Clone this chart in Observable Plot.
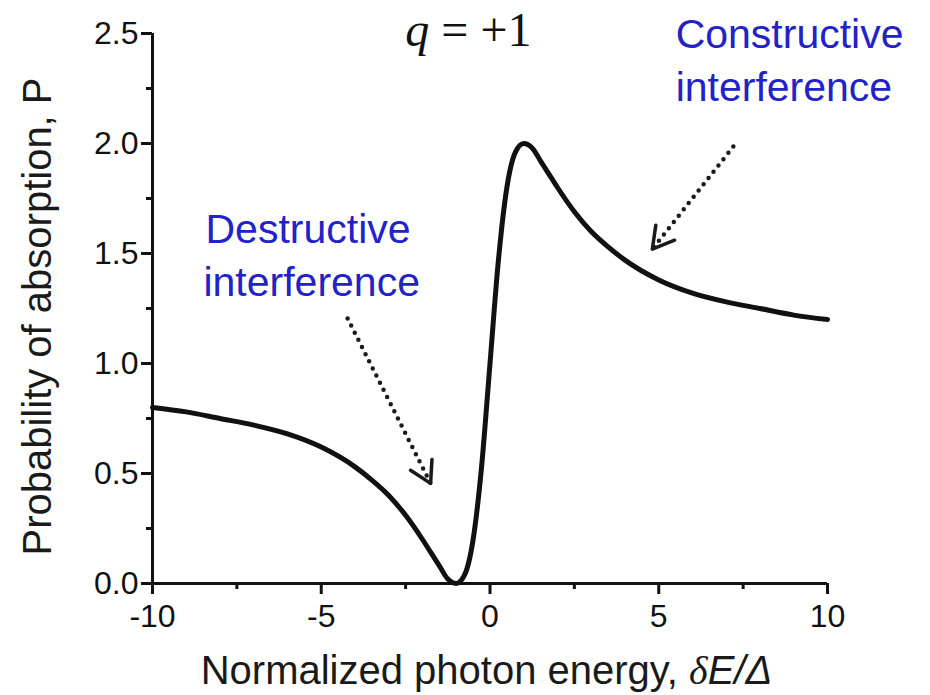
<!DOCTYPE html>
<html>
<head>
<meta charset="utf-8">
<script src="https://cdn.jsdelivr.net/npm/d3@7"></script>
<script src="https://cdn.jsdelivr.net/npm/@observablehq/plot@0.6"></script>
<style>
  body { margin: 0; background: #fff; }
  #chart svg { display: block; }
</style>
</head>
<body>
<div id="chart"></div>
<script>
// ---- data ----
const energy = [-10, -9, -8, -7, -6, -5, -4, -3.5, -3, -2.5, -2, -1.75, -1.5, -1.25, -1, -0.75, -0.5, -0.25,
  0, 0.25, 0.5, 0.75, 1, 1.25, 1.5, 1.75, 2, 2.5, 3, 3.5, 4, 5, 6, 7, 8, 9, 10];
const probability = [0.80, 0.78, 0.75, 0.72, 0.68, 0.62, 0.53, 0.47, 0.40, 0.31, 0.20, 0.14, 0.08, 0.02, 0.00, 0.04, 0.20, 0.53,
  1.00, 1.47, 1.80, 1.96, 2.00, 1.98, 1.92, 1.86, 1.80, 1.69, 1.60, 1.53, 1.47, 1.38, 1.32, 1.28, 1.25, 1.22, 1.20];

const yTicks = [0, 0.5, 1, 1.5, 2, 2.5];
const yMinorTicks = [0.25, 0.75, 1.25, 1.75, 2.25];
const xTicks = [-10, -5, 0, 5, 10];
const xMinorTicks = [-7.5, -2.5, 2.5, 7.5];

const noteText = ["Destructive", "interference", "Constructive", "interference"];
const noteX = [-8.43, -8.49, 5.50, 5.50];
const noteY = [1.55, 1.309, 2.432, 2.195];

const arrowX1 = [-4.22, 7.21];
const arrowY1 = [1.205, 1.986];
const arrowX2 = [-1.76, 4.81];
const arrowY2 = [0.455, 1.52];

const titleParts = ["q", " = +1"];
const titleX = -0.64;
const titleY = 2.445;
const xLabelParts = ["Normalized photon energy, ", "\u03B4", "E/\u0394"];
const yLabel = "Probability of absorption, P";

// ---- layout ----
const W = 930, H = 695, mL = 152, mR = 103, mT = 33, mB = 112;
const xDomain = [-10, 10], yDomain = [0, 2.5];
const kx = (W - mL - mR) / (xDomain[1] - xDomain[0]);
const ky = (H - mT - mB) / (yDomain[1] - yDomain[0]);

const curve = energy.map((x, i) => ({x, y: probability[i]}));
const notes = noteText.map((t, i) => ({t, x: noteX[i], y: noteY[i]}));
const arrows = arrowX1.map((x1, i) => ({x1, y1: arrowY1[i], x2: arrowX2[i], y2: arrowY2[i]}));
const heads = arrows.flatMap((a, i) => {
  const dx = (a.x2 - a.x1) * kx, dy = -(a.y2 - a.y1) * ky;
  const L = Math.hypot(dx, dy);
  const bx = -dx / L, by = -dy / L;
  const wing = 24, ang = Math.PI / 6;
  const pts = [ang, -ang].map(t => {
    const wx = bx * Math.cos(t) - by * Math.sin(t);
    const wy = bx * Math.sin(t) + by * Math.cos(t);
    return {x: a.x2 + wx * wing / kx, y: a.y2 - wy * wing / ky, id: i};
  });
  return [pts[0], {x: a.x2, y: a.y2, id: i}, pts[1]];
});

const titleText = titleParts.join("");
const xLabel = xLabelParts.join("");

const chart = Plot.plot({
  width: W, height: H,
  marginLeft: mL, marginRight: mR, marginTop: mT, marginBottom: mB,
  x: {domain: xDomain},
  y: {domain: yDomain},
  style: {fontFamily: "'Liberation Sans', Arial, sans-serif", color: "#111", background: "#fff", overflow: "visible"},
  marks: [
    Plot.axisY({ticks: yTicks, tickSize: 11, tickPadding: 3, tickFormat: d3.format(".1f"), fontSize: 32, strokeWidth: 3, label: null}),
    Plot.axisY({ticks: yMinorTicks, tickSize: 6, tickFormat: () => "", strokeWidth: 3, label: null}),
    Plot.axisX({ticks: xTicks, tickSize: 11, tickPadding: 10, tickFormat: d => String(d), fontSize: 32, strokeWidth: 3, label: null}),
    Plot.axisX({ticks: xMinorTicks, tickSize: 6, tickFormat: () => "", strokeWidth: 3, label: null}),
    Plot.ruleX([xDomain[0]], {strokeWidth: 3, stroke: "#111"}),
    Plot.ruleY([yDomain[0]], {strokeWidth: 3, stroke: "#111"}),
    Plot.line(curve, {x: "x", y: "y", curve: "monotone-x", strokeWidth: 5, stroke: "#111"}),
    Plot.link(arrows, {x1: "x1", y1: "y1", x2: "x2", y2: "y2", strokeDasharray: "0 8", strokeLinecap: "round", strokeWidth: 4.5, stroke: "#1a1a1a"}),
    Plot.line(heads, {x: "x", y: "y", z: "id", strokeWidth: 3.5, stroke: "#1a1a1a"}),
    Plot.text(notes, {x: "x", y: "y", text: "t", textAnchor: "start", lineAnchor: "bottom", fontSize: 41, fill: "#2222c8"}),
    Plot.text([titleText], {x: titleX, y: titleY, text: d => d, textAnchor: "middle", lineAnchor: "bottom", fontSize: 48, fontFamily: "'Liberation Serif', 'Times New Roman', serif", fill: "#111"}),
    Plot.text([xLabel], {frameAnchor: "bottom", text: d => d, dx: -3.5, dy: 100, lineAnchor: "bottom", textAnchor: "middle", fontSize: 40, fill: "#1a1a1a"}),
    Plot.text([yLabel], {frameAnchor: "left", text: d => d, rotate: -90, dx: -114, dy: 8, lineAnchor: "middle", textAnchor: "middle", fontSize: 40, fill: "#1a1a1a"})
  ]
});

document.getElementById("chart").appendChild(chart);

const svg = d3.select(chart.tagName.toLowerCase() === "svg" ? chart : chart.querySelector("svg"));

// bold tick marks like the reference
svg.selectAll("g[aria-label]")
  .filter(function () {
    const l = this.getAttribute("aria-label");
    return /tick/.test(l) && !/label/.test(l);
  })
  .attr("stroke-width", 3)
  .selectAll("path, line").attr("stroke-width", 3);

// italic parts of the title and x-axis label
svg.selectAll("text").filter(function () { return this.textContent === titleText; }).each(function () {
  const t = d3.select(this).text(null);
  t.append("tspan").attr("font-style", "italic").text(titleParts[0]);
  t.append("tspan").text(titleParts[1]);
});
svg.selectAll("text").filter(function () { return this.textContent === xLabel; }).each(function () {
  const t = d3.select(this).text(null);
  t.append("tspan").text(xLabelParts[0]);
  t.append("tspan").attr("font-style", "italic").attr("font-family", "'Liberation Serif', serif").text(xLabelParts[1]);
  t.append("tspan").attr("font-style", "italic").text(xLabelParts[2]);
});
</script>
</body>
</html>
